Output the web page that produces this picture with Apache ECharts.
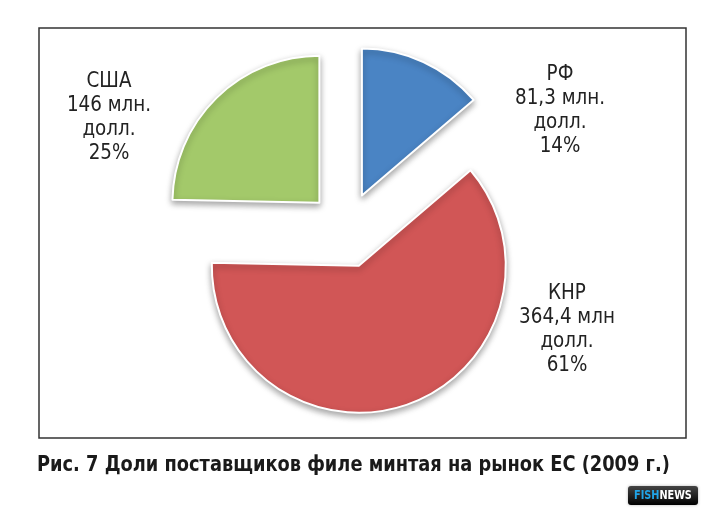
<!DOCTYPE html>
<html>
<head>
    <meta charset="UTF-8">
    <title></title>
    <script type="text/javascript" src="https://cdn.jsdelivr.net/npm/echarts@6/dist/echarts.min.js"></script>
    <style>
        html, body { margin: 0; padding: 0; background: #fff; }
    </style>
</head>
<body>

<div id="mainpie" style="height: 515px; width: 709px;"></div>
<script type="text/javascript">

    // данные с рисунка
    var names = ['РФ', 'КНР', 'США'];
    var values = [81.3, 364.4, 146];
    var valueText = ['81,3 млн.', '364,4 млн', '146 млн.'];
    var percentText = ['14%', '61%', '25%'];
    var colors = ['#4a84c4', '#d15656', '#a3c96a'];

    // центры блоков подписей
    var labelPos = [[560, 111], [567, 330], [109, 118]];

    var narrow = "'DejaVu Sans Condensed', 'Liberation Sans Narrow', sans-serif";

    var myChartPie = echarts.init(document.getElementById('mainpie'));

    var pieData = [];
    for (var i = 0; i < names.length; i++) {
        pieData.push({
            name: names[i],
            value: values[i],
            selected: true,
            itemStyle: { color: colors[i] }
        });
    }

    var graphics = [
        {
            type: 'rect',
            shape: { x: 39, y: 28, width: 647, height: 410 },
            style: { fill: 'none', stroke: '#333', lineWidth: 1.5 },
            z: -1
        },
        {
            type: 'text',
            x: 37,
            y: 465,
            scaleX: 0.9,
            style: {
                text: 'Рис. 7 Доли поставщиков филе минтая на рынок ЕС (2009 г.)',
                font: 'bold 22px ' + narrow,
                fill: '#1a1a1a',
                verticalAlign: 'middle'
            }
        },
        {
            type: 'group',
            x: 628,
            y: 486,
            children: [
                {
                    type: 'rect',
                    shape: { x: 0, y: 0, width: 70, height: 19, r: 3 },
                    style: {
                        fill: new echarts.graphic.LinearGradient(0, 0, 0, 1, [
                            { offset: 0, color: '#444' },
                            { offset: 1, color: '#000' }
                        ]),
                        shadowBlur: 3,
                        shadowColor: 'rgba(0,0,0,0.3)'
                    }
                },
                {
                    type: 'text',
                    x: 6,
                    y: 10,
                    scaleX: 0.9,
                    style: {
                        text: '{a|FISH}{b|NEWS}',
                        verticalAlign: 'middle',
                        rich: {
                            a: { fontFamily: narrow, fontSize: 12, fontWeight: 'bold', fill: '#20a4e8' },
                            b: { fontFamily: narrow, fontSize: 12, fontWeight: 'bold', fill: '#fff' }
                        }
                    }
                }
            ]
        }
    ];

    // подписи долей
    for (var k = 0; k < names.length; k++) {
        graphics.push({
            type: 'text',
            x: labelPos[k][0],
            y: labelPos[k][1],
            scaleX: 0.97,
            style: {
                text: names[k] + '\n' + valueText[k] + '\nдолл.\n' + percentText[k],
                font: '21px ' + narrow,
                lineHeight: 24,
                fill: '#222',
                align: 'center',
                verticalAlign: 'middle'
            }
        });
    }

    option = {
        animation: false,
        graphic: graphics,
        series: [{
            name: 'Доли',
            type: 'pie',
            center: [346, 230],
            radius: [0, 147],
            startAngle: 90,
            clockwise: true,
            selectedMode: 'multiple',
            selectedOffset: 38,
            silent: true,
            itemStyle: {
                borderColor: '#fff',
                borderWidth: 2,
                shadowBlur: 6,
                shadowOffsetY: 3,
                shadowColor: 'rgba(0,0,0,0.35)'
            },
            label: { show: false },
            labelLine: { show: false },
            data: pieData
        }]
    };

    myChartPie.setOption(option);

</script>

</body>
</html>
